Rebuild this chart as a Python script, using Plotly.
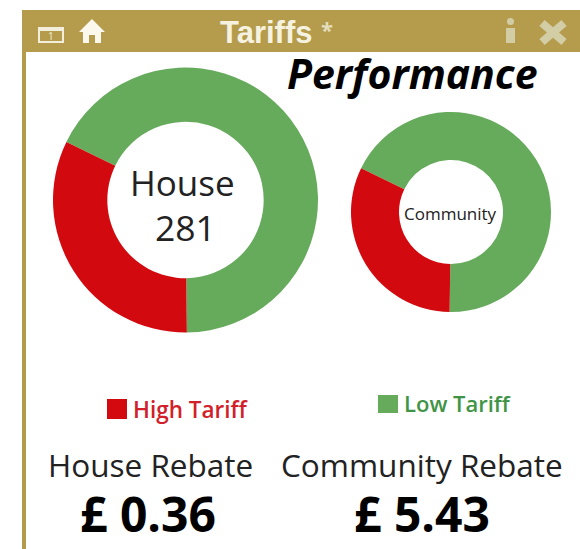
import plotly.graph_objects as go

W, H = 580, 549
categories = ["Low Tariff", "High Tariff"]
house_values = [190, 91]
community_values = [68, 32]
house_total = "281"
house_rebate = "£ 0.36"
community_rebate = "£ 5.43"
GREEN, RED, TAN = "#66AB5C", "#D20A10", "#B59B4C"
ICON = "#D3CDA6"
SANS = "Open Sans"

def px(x): return x / W
def py(y): return 1 - y / H

fig = go.Figure()
def donut(vals, x0, x1, y0, y1, hole, name):
    fig.add_trace(go.Pie(labels=categories, values=vals, name=name, hole=hole, sort=False,
        direction="clockwise", rotation=296, textinfo="none", showlegend=False,
        marker=dict(colors=[GREEN, RED], line=dict(width=0)),
        domain=dict(x=[px(x0), px(x1)], y=[py(y1), py(y0)])))
donut(house_values, 53, 318, 67, 333, 0.59, "House")
donut(community_values, 351, 551, 112, 312, 0.52, "Community")

shapes = [
    dict(type="rect", x0=px(22), x1=1, y0=py(52), y1=py(10), fillcolor=TAN, line_width=0, layer="below"),
    dict(type="rect", x0=px(22), x1=px(26), y0=0, y1=py(52), fillcolor=TAN, line_width=0, layer="below"),
    dict(type="rect", x0=px(107), x1=px(127), y0=py(419), y1=py(399), fillcolor=RED, line_width=0),
    dict(type="rect", x0=px(378), x1=px(398), y0=py(413), y1=py(395), fillcolor=GREEN, line_width=0),
    dict(type="rect", x0=px(39), x1=px(63), y0=py(42), y1=py(28), fillcolor="rgba(0,0,0,0)",
         line=dict(color="#F3EEDC", width=2)),
    dict(type="rect", x0=px(39), x1=px(63), y0=py(31), y1=py(28), fillcolor="#F3EEDC", line_width=0),
]
# home icon
hx = [92, 105, 101, 101, 95, 95, 89, 89, 83, 83, 79]
hy = [19, 32, 32, 43, 43, 35, 35, 43, 43, 32, 32]
path = "M " + " L ".join(f"{px(a):.5f} {py(b):.5f}" for a, b in zip(hx, hy)) + " Z"
shapes.append(dict(type="path", path=path, fillcolor="#FBF8EE", line_width=0))
# info icon
shapes.append(dict(type="rect", x0=px(506), x1=px(515), y0=py(43), y1=py(28), fillcolor=ICON, line_width=0))
shapes.append(dict(type="circle", x0=px(507), x1=px(514), y0=py(25), y1=py(18), fillcolor=ICON, line_width=0))
# close icon
for a, b, c, d in [(542, 42, 564, 23), (542, 23, 564, 42)]:
    shapes.append(dict(type="line", x0=px(a), y0=py(b), x1=px(c), y1=py(d), line=dict(color=ICON, width=8)))

def label(x, y, text, size, color="#222222", weight="normal", italic=False, family=SANS):
    fig.add_annotation(x=px(x), y=py(y), xref="paper", yref="paper", text=text, showarrow=False,
        xanchor="center", yanchor="middle",
        font=dict(size=size, color=color, family=family, weight=weight,
                  style="italic" if italic else "normal"))

label(51, 36, "1", 10, "#F3EEDC")
label(266, 32, "Tariffs", 31, "#F6F2E0", weight="bold", family="Liberation Sans")
label(327, 29, "*", 22, "#E4DDBB", weight="bold")
label(412, 73, "Performance", 41, "#000000", weight="bold", italic=True)
label(182, 182, "House", 35)
label(186, 227, house_total, 35.5)
label(450, 213, "Community", 17)
label(191, 409, "High Tariff", 22.5, "#D2202A", weight=600)
label(457, 403, "Low Tariff", 22, "#3F9446", weight=600)
label(150, 464, "House Rebate", 31.5)
label(422, 464, "Community Rebate", 31.5)
label(148, 513, house_rebate, 48, "#000000", weight="bold")
label(422, 513, community_rebate, 48, "#000000", weight="bold")

fig.update_layout(width=W, height=H, margin=dict(l=0, r=0, t=0, b=0), autosize=False,
    paper_bgcolor="white", plot_bgcolor="white", shapes=shapes)
fig.write_html("out.html", post_script="document.body.style.margin='0';", config={"displayModeBar": False})
